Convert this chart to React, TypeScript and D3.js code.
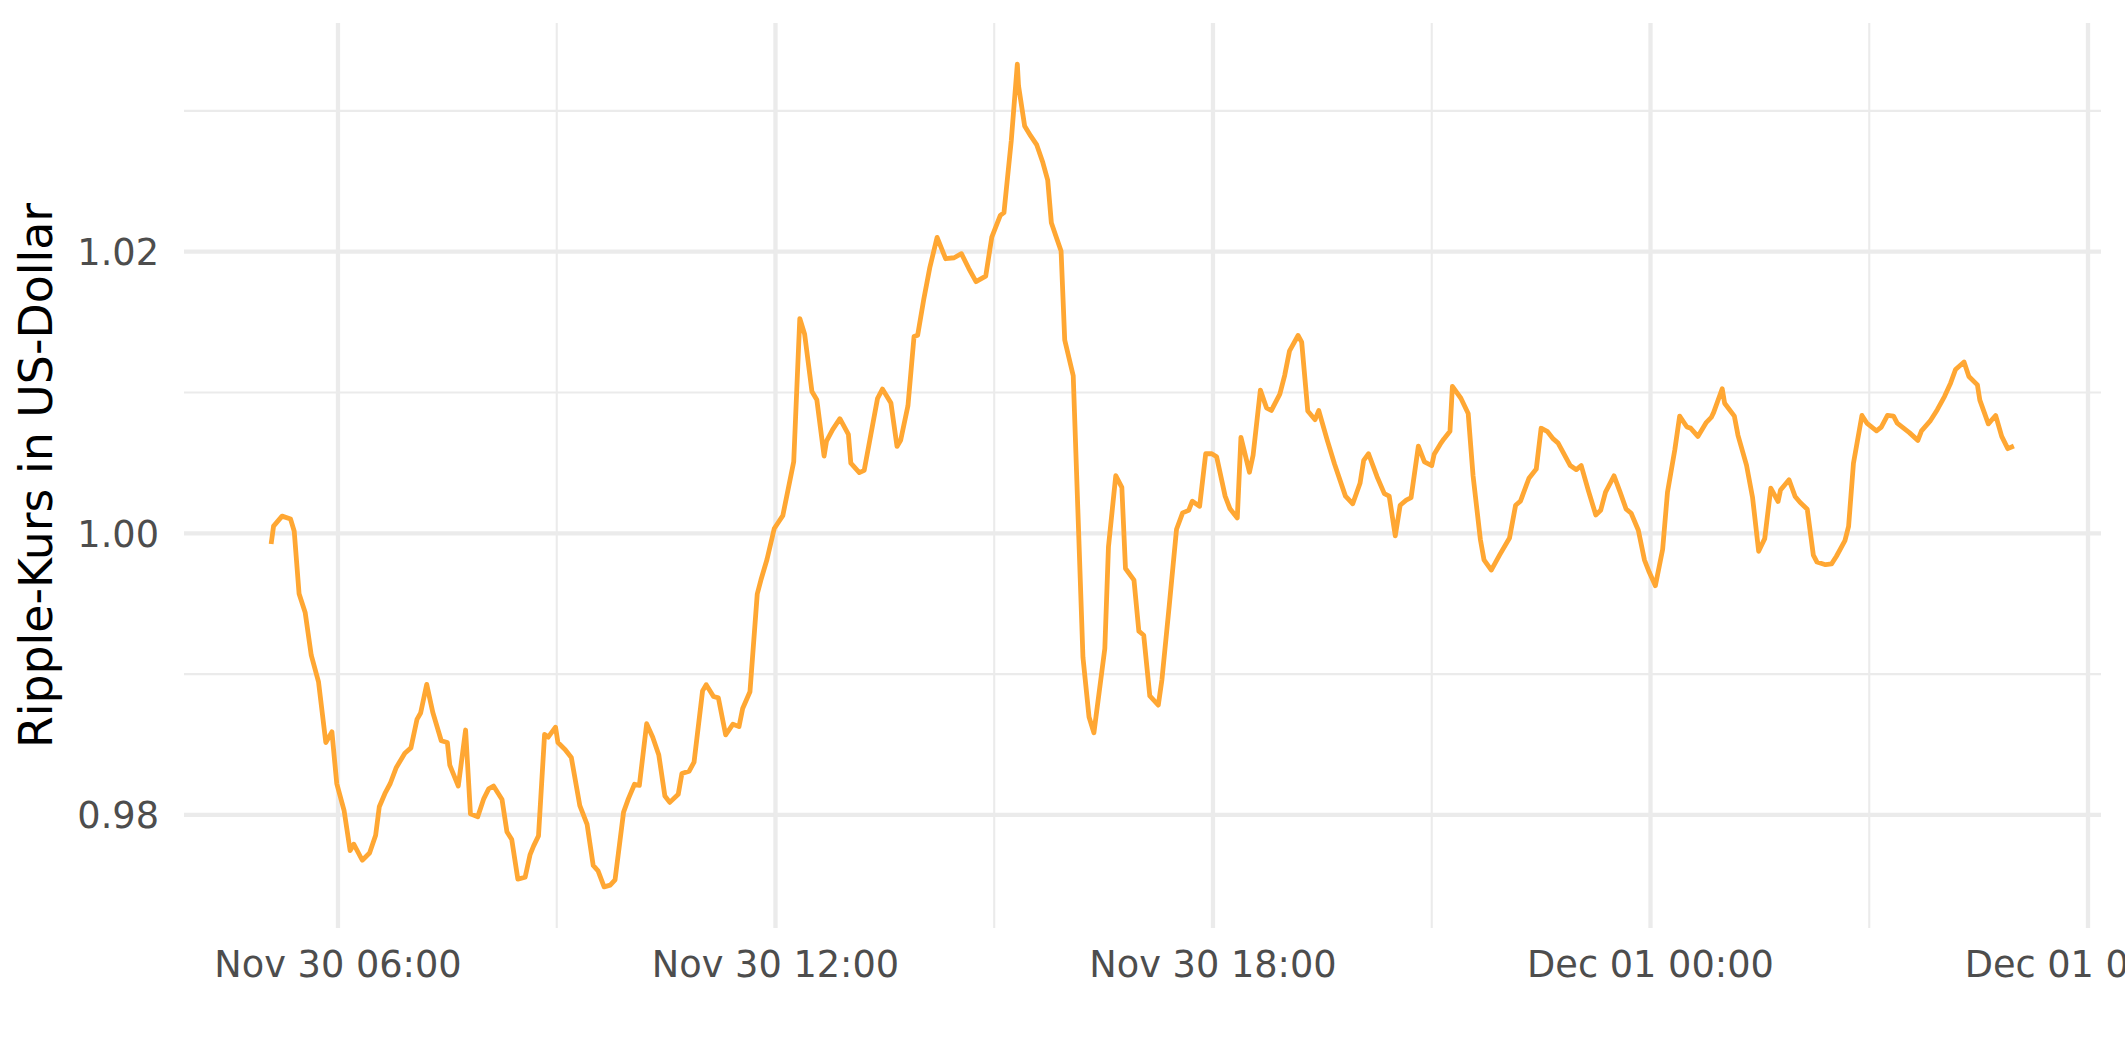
import React from "react";
import * as d3 from "d3";

// minutes after 2024-11-30 00:00 (local time)
const minutes: number[] = [
  305, 307, 314, 321, 324, 328, 333, 338, 344, 350, 355, 359, 365, 370, 373, 380, 386, 391, 394, 399,
  403, 408, 415, 420, 425, 428, 433, 438, 445, 450, 452, 459, 465, 469, 475, 480, 484, 488, 495, 499,
  503, 508, 514, 518, 521, 525, 530, 533, 539, 541, 547, 552, 559, 565, 570, 574, 579, 584, 588, 595,
  599, 604, 608, 614, 619, 624, 629, 633, 640, 643, 649, 653, 660, 663, 669, 673, 679, 685, 690, 693,
  699, 705, 708, 713, 719, 726, 735, 740, 744, 750, 754, 760, 762, 767, 773, 780, 782, 789, 793, 804,
  808, 815, 820, 823, 829, 834, 837, 842, 847, 853, 860, 867, 873, 879, 885, 893, 898, 905, 908, 914,
  919, 920, 925, 930, 935, 940, 944, 947, 951, 955, 958, 965, 973, 978, 982, 991, 994, 1000, 1005, 1008,
  1015, 1019, 1023, 1028, 1035, 1038, 1044, 1050, 1055, 1060, 1063, 1069, 1074, 1079, 1083, 1090, 1094, 1100, 1103, 1110,
  1113, 1119, 1124, 1128, 1135, 1139, 1143, 1150, 1153, 1158, 1164, 1167, 1174, 1180, 1189, 1195, 1201, 1204, 1208, 1215,
  1221, 1225, 1230, 1234, 1239, 1243, 1249, 1254, 1260, 1262, 1267, 1270, 1275, 1277, 1284, 1290, 1294, 1300, 1303, 1309,
  1316, 1324, 1329, 1333, 1340, 1346, 1350, 1355, 1360, 1364, 1374, 1379, 1383, 1389, 1395, 1399, 1403, 1410, 1415, 1420,
  1424, 1430, 1435, 1439, 1444, 1450, 1454, 1460, 1464, 1470, 1473, 1479, 1486, 1490, 1492, 1499, 1501, 1509, 1512, 1519,
  1524, 1529, 1534, 1539, 1545, 1547, 1554, 1559, 1563, 1569, 1574, 1577, 1584, 1589, 1593, 1600, 1603, 1607, 1614, 1618,
  1626, 1630, 1635, 1640, 1643, 1653, 1660, 1663, 1670, 1676, 1682, 1687, 1691, 1698, 1702, 1709, 1711, 1718, 1724, 1729,
  1734, 1739,
];

// Ripple price in USD
const prices: number[] = [
  0.99924, 1.00051, 1.00122, 1.00101, 1.00015, 0.9957, 0.99438, 0.99134, 0.98944, 0.98514, 0.9859, 0.98223, 0.98033, 0.97747, 0.97792, 0.97678, 0.97729, 0.97856, 0.98058, 0.98159,
  0.98223, 0.98337, 0.98438, 0.98476, 0.98678, 0.98724, 0.98927, 0.98729, 0.98527, 0.98514, 0.98354, 0.98205, 0.98603, 0.98008, 0.97987, 0.98116, 0.98185, 0.98205, 0.98109, 0.97881,
  0.97825, 0.97544, 0.97557, 0.97716, 0.9778, 0.97851, 0.98572, 0.98552, 0.98623, 0.98514, 0.98463, 0.98408, 0.98066, 0.97932, 0.97641, 0.97603, 0.97489, 0.97501, 0.97539, 0.9802,
  0.98116, 0.98218, 0.9821, 0.98648, 0.98552, 0.98425, 0.98134, 0.98089, 0.98147, 0.98294, 0.98311, 0.98375, 0.98881, 0.98925, 0.98841, 0.98831, 0.98569, 0.98644, 0.98627, 0.98756,
  0.98875, 0.99569, 0.99668, 0.99814, 1.00034, 1.00125, 1.00508, 1.01525, 1.01414, 1.01007, 1.00949, 1.00549, 1.00654, 1.00736, 1.00814, 1.00702, 1.00498, 1.00431, 1.00447, 1.00959,
  1.01024, 1.00925, 1.00617, 1.00661, 1.00905, 1.01397, 1.01407, 1.01661, 1.01888, 1.02102, 1.0195, 1.01957, 1.01986, 1.01882, 1.01787, 1.01827, 1.02104, 1.02258, 1.02277, 1.02787,
  1.03332, 1.03178, 1.02893, 1.02822, 1.02758, 1.02633, 1.02509, 1.02206, 1.02104, 1.02005, 1.01373, 1.01119, 0.99119, 0.98695, 0.98583, 0.99182, 0.99905, 1.00409, 1.00326, 0.9975,
  0.99667, 0.99305, 0.99276, 0.98845, 0.9878, 0.98961, 0.99486, 1.00029, 1.00145, 1.00163, 1.00228, 1.00192, 1.00565, 1.00565, 1.00543, 1.00264, 1.00174, 1.00109, 1.00681, 1.00434,
  1.00554, 1.01017, 1.00891, 1.00872, 1.00988, 1.01122, 1.01296, 1.01405, 1.01357, 1.00869, 1.00807, 1.00872, 1.00662, 1.00492, 1.00264, 1.0021, 1.00355, 1.00518, 1.00565, 1.00402,
  1.00282, 1.00264, 0.99982, 1.00199, 1.00235, 1.00253, 1.00619, 1.00507, 1.00481, 1.00561, 1.00633, 1.0067, 1.00724, 1.01043, 1.00959, 1.00851, 1.00409, 0.99957, 0.99812, 0.99739,
  0.99848, 0.99967, 1.00199, 1.00228, 1.00391, 1.00456, 1.00746, 1.00724, 1.0067, 1.00641, 1.00481, 1.00452, 1.00481, 1.003, 1.0013, 1.00163, 1.00293, 1.00408, 1.00293, 1.00171,
  1.00144, 1.00022, 0.99812, 0.99723, 0.99628, 0.99886, 1.00293, 1.00592, 1.00832, 1.00755, 1.00747, 1.00688, 1.00788, 1.00823, 1.00859, 1.01027, 1.00924, 1.00832, 1.00696, 1.00484,
  1.00253, 0.99872, 0.99962, 1.00321, 1.00226, 1.00307, 1.0038, 1.00261, 1.0022, 1.00171, 0.99845, 0.99796, 0.99777, 0.99783, 0.99837, 0.99948, 1.00049, 1.00497, 1.00837, 1.00783,
  1.00728, 1.00755, 1.00837, 1.00832, 1.00783, 1.00715, 1.0066, 1.00728, 1.00796, 1.00878, 1.00973, 1.01068, 1.01163, 1.01217, 1.01114, 1.01054, 1.00946, 1.00777, 1.00837, 1.00688,
  1.00601, 1.0062,
];

const xMajorHours: number[] = [6, 12, 18, 24, 30];
const xTickLabels: string[] = ["Nov 30 06:00", "Nov 30 12:00", "Nov 30 18:00", "Dec 01 00:00", "Dec 01 06:00"];
const xMinorHours: number[] = [9, 15, 21, 27];
const yMajor: number[] = [0.98, 1.0, 1.02];
const yTickLabels: string[] = ["0.98", "1.00", "1.02"];
const yMinor: number[] = [0.99, 1.01, 1.03];
const yTitle = "Ripple-Kurs in US-Dollar";

const W = 2125;
const H = 1062;
const M = { left: 184, right: 24, top: 23, bottom: 134 };

const base = new Date(2024, 10, 30, 0, 0);
const toDate = (min: number) => new Date(base.getTime() + min * 60000);

export default function App() {
  const data = minutes.map((m, i) => ({ d: toDate(m), v: prices[i] }));
  const [d0, d1] = d3.extent(data, (p) => p.d) as [Date, Date];
  const span = d1.getTime() - d0.getTime();
  const x = d3
    .scaleTime()
    .domain([new Date(d0.getTime() - span * 0.05), new Date(d1.getTime() + span * 0.05)])
    .range([M.left, W - M.right]);
  const [v0, v1] = d3.extent(data, (p) => p.v) as [number, number];
  const vr = v1 - v0;
  const y = d3
    .scaleLinear()
    .domain([v0 - vr * 0.05, v1 + vr * 0.05])
    .range([H - M.bottom, M.top]);

  const line = d3
    .line<{ d: Date; v: number }>()
    .x((p) => x(p.d))
    .y((p) => y(p.v));

  const grid = "#EBEBEB";
  const font = "'DejaVu Sans', Verdana, sans-serif";
  const hourDate = (h: number) => toDate(h * 60);
  const top = M.top;
  const bottom = H - M.bottom;

  return (
    <svg width={W} height={H} style={{ display: "block", background: "#fff" }}>
      <style>{`body{margin:0}`}</style>
      {yMinor.map((v) => (
        <line key={"ym" + v} x1={M.left} x2={W - M.right} y1={y(v)} y2={y(v)} stroke={grid} strokeWidth={2.1} />
      ))}
      {xMinorHours.map((h) => (
        <line key={"xm" + h} x1={x(hourDate(h))} x2={x(hourDate(h))} y1={top} y2={bottom} stroke={grid} strokeWidth={2.1} />
      ))}
      {yMajor.map((v) => (
        <line key={"yM" + v} x1={M.left} x2={W - M.right} y1={y(v)} y2={y(v)} stroke={grid} strokeWidth={4.3} />
      ))}
      {xMajorHours.map((h) => (
        <line key={"xM" + h} x1={x(hourDate(h))} x2={x(hourDate(h))} y1={top} y2={bottom} stroke={grid} strokeWidth={4.3} />
      ))}
      <path d={line(data) || ""} fill="none" stroke="#FFA733" strokeWidth={4.8} strokeLinejoin="round" />
      {yMajor.map((v, i) => (
        <text key={"yl" + v} x={159} y={y(v)} dy="0.365em" textAnchor="end" fontFamily={font} fontSize={36.7} fill="#4D4D4D">
          {yTickLabels[i]}
        </text>
      ))}
      {xMajorHours.map((h, i) => (
        <text key={"xl" + h} x={x(hourDate(h))} y={977} textAnchor="middle" fontFamily={font} fontSize={36.7} fill="#4D4D4D">
          {xTickLabels[i]}
        </text>
      ))}
      <text
        transform={`translate(52, ${(top + bottom) / 2}) rotate(-90)`}
        textAnchor="middle"
        fontFamily={font}
        fontSize={45.8}
        fill="#000"
      >
        {yTitle}
      </text>
    </svg>
  );
}
